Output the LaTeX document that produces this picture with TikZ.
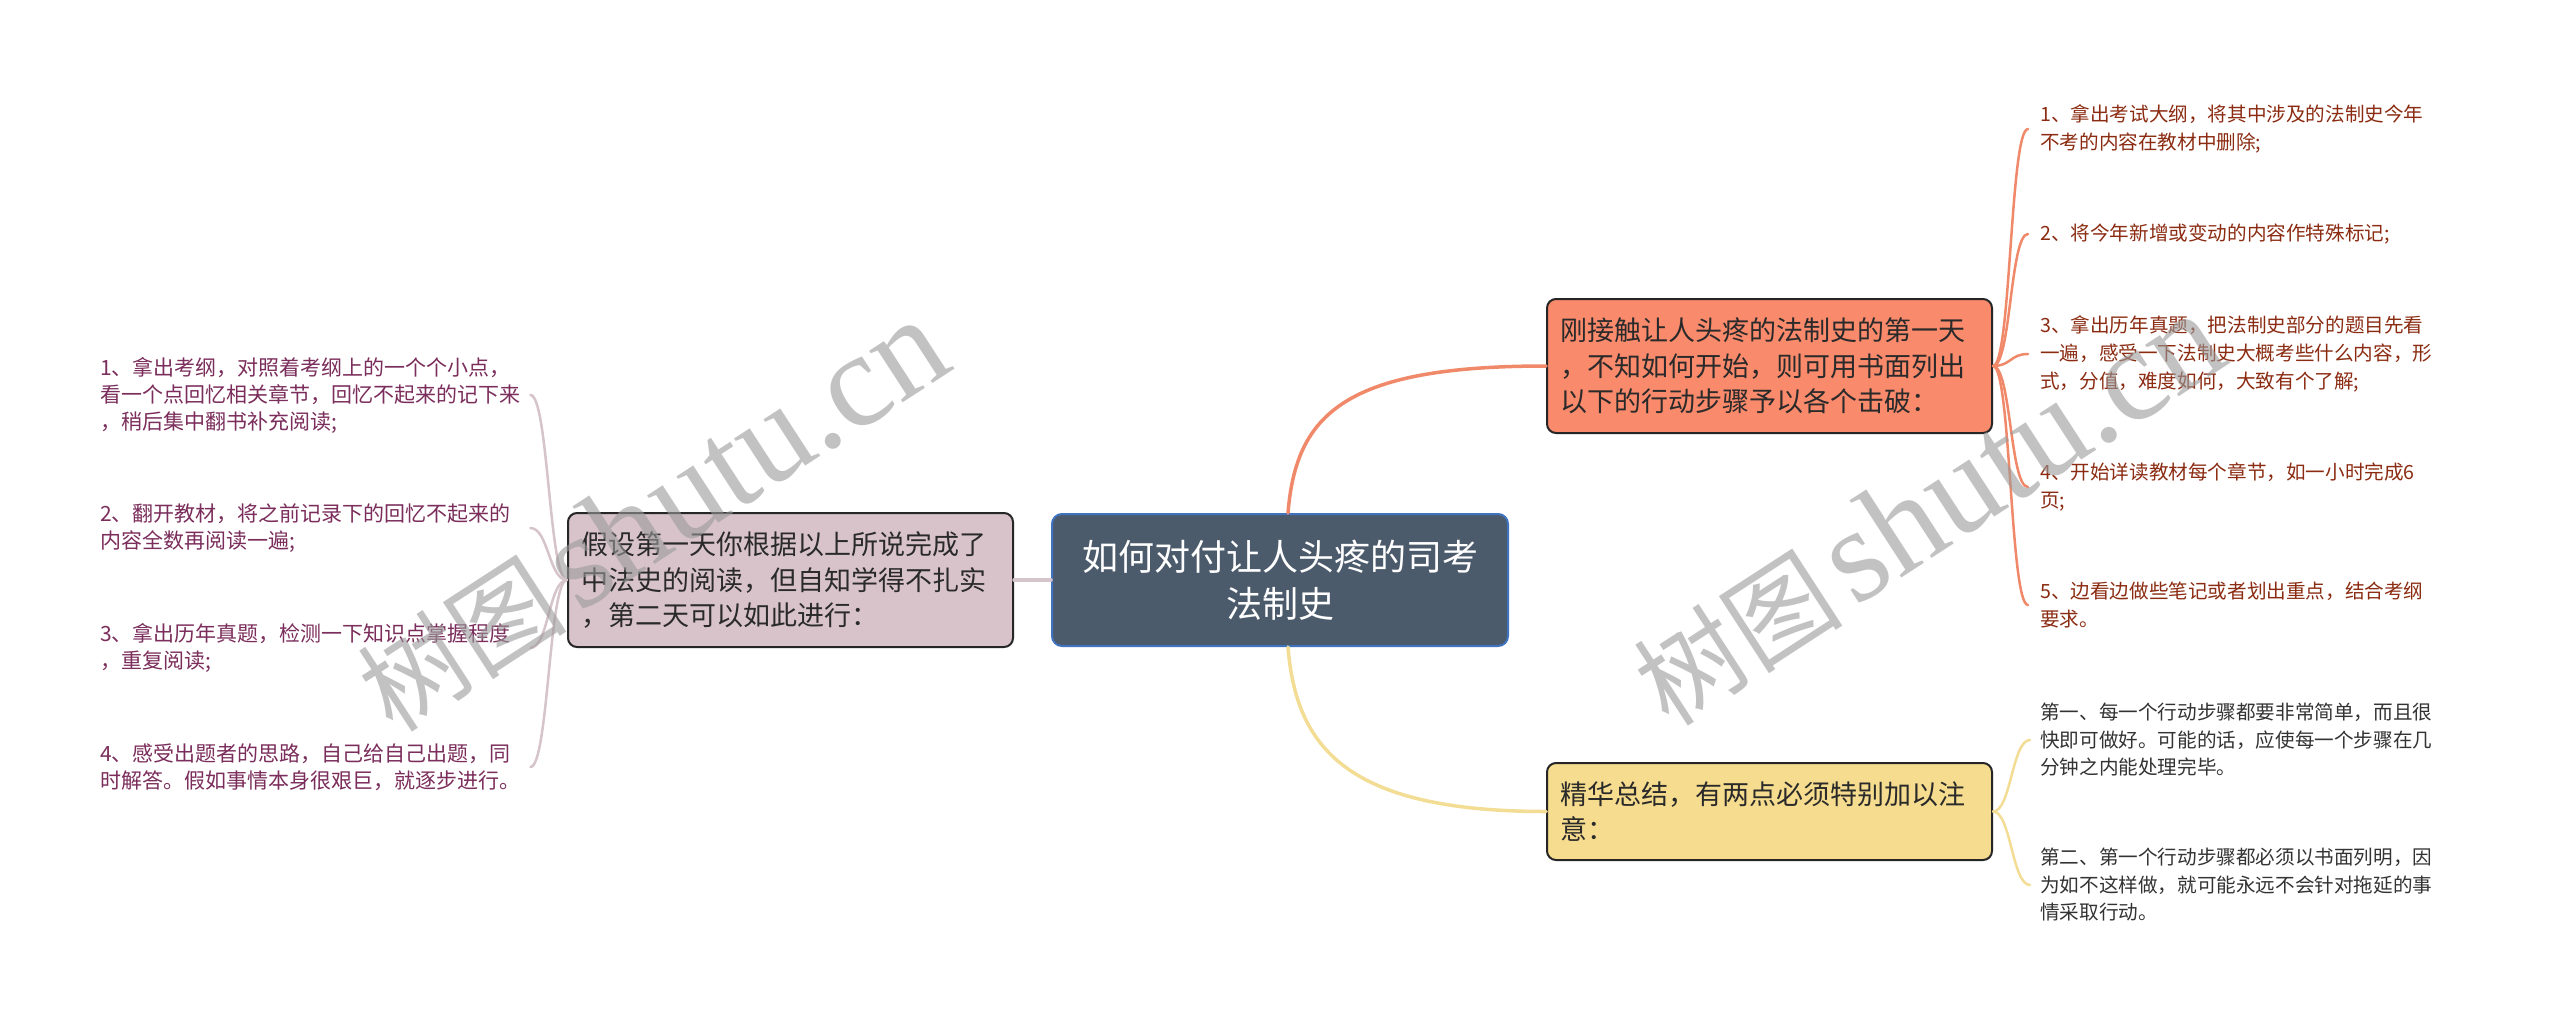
\documentclass[tikz,border=0pt]{standalone}
\usepackage{fontspec}
\setmainfont{Noto Sans CJK SC}
\newfontfamily\wmserif{Liberation Serif}
\definecolor{rootfill}{HTML}{4C5B6B}
\definecolor{rootborder}{HTML}{3F72BF}
\definecolor{orangefill}{HTML}{F98A6C}
\definecolor{yellowfill}{HTML}{F6DC8E}
\definecolor{pinkfill}{HTML}{D8C3CB}
\definecolor{orangeline}{HTML}{F0896A}
\definecolor{yellowline}{HTML}{F3DD95}
\definecolor{pinkline}{HTML}{D6C4CB}
\definecolor{rtext}{HTML}{8B2C12}
\definecolor{ltext}{HTML}{7B2D5B}
\definecolor{ytext}{HTML}{333333}
\definecolor{boxtext}{HTML}{2A2A2A}
\definecolor{wmgray}{HTML}{9A9A9A}
\tikzset{
  rootbox/.style={draw=rootborder, line width=2pt, fill=rootfill, rounded corners=10pt,
    text=white, align=center, minimum width=456pt, minimum height=132pt, inner sep=0pt,
    font=\fontsize{36pt}{47pt}\selectfont},
  topicbox/.style={draw=black!85, line width=2pt, rounded corners=9pt, text=boxtext,
    align=left, text width=419pt, inner xsep=13pt, inner ysep=0pt, minimum width=445pt,
    font=\fontsize{27pt}{35.5pt}\selectfont},
  rleaf/.style={anchor=west, inner sep=0pt, align=left, text=rtext,
    font=\fontsize{19.6pt}{28pt}\selectfont},
  yleaf/.style={anchor=west, inner sep=0pt, align=left, text=ytext,
    font=\fontsize{19.6pt}{27.5pt}\selectfont},
  lleaf/.style={anchor=west, inner sep=0pt, align=left, text=ltext, text width=425pt,
    font=\fontsize{21pt}{27pt}\selectfont},
  mainline/.style={line width=3.5pt, line cap=round},
  leafline/.style={line width=2.5pt, line cap=round},
  wm/.style={text=wmgray, opacity=0.6, inner sep=0pt, rotate=33}
}
\begin{document}
\begin{tikzpicture}[x=1pt, y=-1pt]
\useasboundingbox (0,0) rectangle (2560,1026);
\fill[white] (0,0) rectangle (2560,1026);

% central and main topics
\node[rootbox] (root) at (1280,580) {如何对付让人头疼的司考\\法制史};
\node[topicbox, fill=orangefill, minimum height=134pt] (b1) at (1769.5,366)
  {刚接触让人头疼的法制史的第一天\\，不知如何开始，则可用书面列出\\以下的行动步骤予以各个击破：};
\node[topicbox, fill=yellowfill, minimum height=97pt] (b2) at (1769.5,811.5)
  {精华总结，有两点必须特别加以注\\意：};
\node[topicbox, fill=pinkfill, minimum height=134pt] (b3) at (790.5,580)
  {假设第一天你根据以上所说完成了\\中法史的阅读，但自知学得不扎实\\，第二天可以如此进行：};

% right leaves (orange)
\node[rleaf] (r1) at (2040,129) {1、拿出考试大纲，将其中涉及的法制史今年\\不考的内容在教材中删除;};
\node[rleaf] (r2) at (2040,234) {2、将今年新增或变动的内容作特殊标记;};
\node[rleaf] (r3) at (2040,354) {3、拿出历年真题，把法制史部分的题目先看\\一遍，感受一下法制史大概考些什么内容，形\\式，分值，难度如何，大致有个了解;};
\node[rleaf] (r4) at (2040,487) {4、开始详读教材每个章节，如一小时完成6\\页;};
\node[rleaf] (r5) at (2040,605) {5、边看边做些笔记或者划出重点，结合考纲\\要求。};

% right leaves (yellow)
\node[yleaf] (y1) at (2040,740) {第一、每一个行动步骤都要非常简单，而且很\\快即可做好。可能的话，应使每一个步骤在几\\分钟之内能处理完毕。};
\node[yleaf] (y2) at (2040,885) {第二、第一个行动步骤都必须以书面列明，因\\为如不这样做，就可能永远不会针对拖延的事\\情采取行动。};

% left leaves
\node[lleaf] (l1) at (100,395) {1、拿出考纲，对照着考纲上的一个个小点，\\看一个点回忆相关章节，回忆不起来的记下来\\，稍后集中翻书补充阅读;};
\node[lleaf] (l2) at (100,528) {2、翻开教材，将之前记录下的回忆不起来的\\内容全数再阅读一遍;};
\node[lleaf] (l3) at (100,648) {3、拿出历年真题，检测一下知识点掌握程度\\，重复阅读;};
\node[lleaf] (l4) at (100,767) {4、感受出题者的思路，自己给自己出题，同\\时解答。假如事情本身很艰巨，就逐步进行。};

% main connectors
\draw[mainline, orangeline] ([xshift=8pt]root.north) .. controls +(8,-100) and +(-200,0) .. (b1.west);
\draw[mainline, yellowline] ([xshift=8pt]root.south) .. controls +(8,100) and +(-200,0) .. (b2.west);
\draw[mainline, pinkline] (root.west) -- (b3.east);

% leaf connectors
\foreach \n in {r1,r2,r3,r4,r5}
  \draw[leafline, orangeline] (b1.east) .. controls +(18,0) and +(-18,0) .. ([xshift=-12pt]\n.west);
\foreach \n in {y1,y2}
  \draw[leafline, yellowline] (b2.east) .. controls +(18,0) and +(-18,0) .. ([xshift=-10pt]\n.west);
\foreach \n in {l1,l2,l3,l4}
  \draw[leafline, pinkline] (b3.west) .. controls +(-18,0) and +(18,0) .. ([xshift=5pt]\n.east);

% watermarks
\node[wm] (wm1) at (652,516) {\fontsize{105pt}{105pt}\selectfont 树图\hspace{12pt}{\wmserif\fontsize{134pt}{134pt}\selectfont shutu.cn}};
\node[wm] (wm2) at (1928,510) {\fontsize{105pt}{105pt}\selectfont 树图\hspace{12pt}{\wmserif\fontsize{134pt}{134pt}\selectfont shutu.cn}};
\end{tikzpicture}
\end{document}
